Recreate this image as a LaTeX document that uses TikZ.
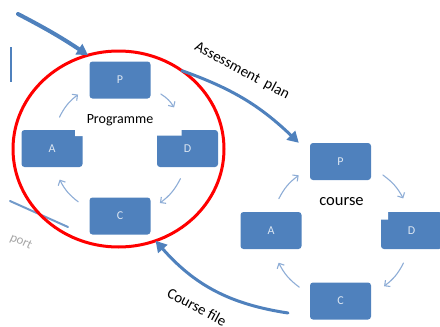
\documentclass[tikz,border=0pt]{standalone}
\usepackage{fontspec}
\setmainfont{Carlito}
\usetikzlibrary{arrows.meta,shapes.geometric}
\definecolor{boxblue}{HTML}{4F81BD}
\definecolor{cycblue}{HTML}{8EADD6}
\definecolor{letterwhite}{HTML}{DCE6F2}
\tikzset{
	box/.style={fill=boxblue, rounded corners=3pt, minimum width=61pt, minimum height=37pt, inner sep=0pt, text=letterwhite, font=\fontsize{12}{12}\selectfont},
	cyc/.style={draw=cycblue, line width=1.1pt, ->},
	flow/.style={draw=boxblue, line width=3pt, -{Triangle[length=11pt,width=12pt]}},
	notch/.style={fill=white, draw=none}
}
\begin{document}
\begin{tikzpicture}[line join=round, line cap=round, >={Straight Barb[length=4pt,width=8pt]}, x=1pt, y=-1pt]
	\useasboundingbox (0,0) rectangle (440,327);
	\clip (0,0) rectangle (440,327);
	\path
	(18,14) coordinate (T)
	(288,313) coordinate (F)
	(10,201) coordinate (S)
	(68,227) coordinate (U)
	(11,47) coordinate (L)
	(11,82) coordinate (K);
	
	% programme cycle and course cycle
	\foreach \name/\x/\y/\txt in {pP/120/80/P, pA/52/148.5/A, pD/187.5/148.5/D, pC/120/216/C,
		cP/340.5/161.5/P, cA/271/230.5/A, cD/411.5/230.5/D, cC/340.5/301/C}
	\node[box] (\name) at (\x,\y) {\txt};
	\fill[notch] (75,129) rectangle (84,136) (157,129) rectangle (181.5,135.5) (379,210) rectangle (388,219.5);
	
	\foreach \a/\b/\s/\e in {pA/pP/.3/.58, pP/pD/.41/.59, pD/pC/.29/.6, pC/pA/.42/.7,
		cA/cP/.3/.59, cP/cD/.41/.7, cD/cC/.3/.58, cC/cA/.4/.7}
	{
		\path (\a.center) to[bend left=45] coordinate[pos=\s] (\a s) coordinate[pos=\e] (\a e) (\b.center);
		\draw[cyc] (\a s) to[bend left=13] (\a e);
	}
	
	\node (progtxt) at (120,120) {\fontsize{14}{14}\selectfont Programme};
	\node (crstxt) at (341.5,202) {\fontsize{16.5}{16.5}\selectfont course};
	
	\draw[boxblue!80, line width=2pt] (S)--(U);
	\draw[boxblue, line width=2pt, line cap=butt] (L)--(K);
	
	\node[draw=red, line width=3pt, ellipse, minimum width=211pt, minimum height=196pt, inner sep=0pt, outer sep=0pt] (ring) at (118.5,149) {};
	
	\draw[flow, line width=4pt] (T) to[bend left=3] (ring.108);
	\draw[flow] (ring.51) to[bend left=12] ([xshift=-11pt]cP.north west);
	\draw[flow] (F) to[bend left=20] (ring.-68);
	
	\node[rotate=-28] (plan) at (242,71) {\fontsize{15}{15}\selectfont Assessment\ \ plan};
	\node[rotate=-28] (file) at (197,307) {\fontsize{15}{15}\selectfont Course file};
	\node[rotate=-25, text=black!35] (sup) at (21,242) {\fontsize{13}{13}\selectfont port};
\end{tikzpicture}
\end{document}
